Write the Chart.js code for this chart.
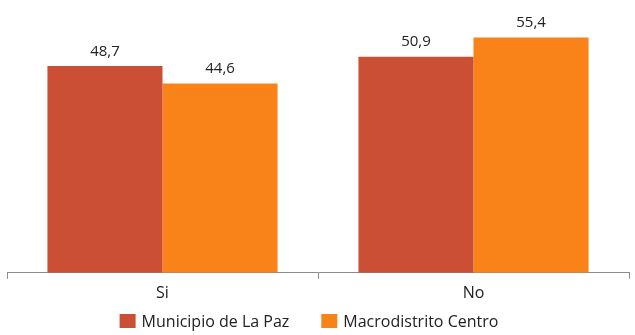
<!DOCTYPE html>
<html>
<head>
<meta charset="utf-8">
<script src="https://cdn.jsdelivr.net/npm/chart.js@4/dist/chart.umd.min.js"></script>
<style>
  html, body { margin:0; padding:0; background:#fff; }
  #wrap { width:635px; height:335px; }
</style>
</head>
<body>
<div id="wrap"><canvas id="chart"></canvas></div>
<script>
// ── Data ──
const categories = ['Si', 'No'];
const seriesNames = ['Municipio de La Paz', 'Macrodistrito Centro'];
const municipio = [48.7, 50.9];
const macrodistrito = [44.6, 55.4];
const colors = ['#CB4F35', '#F98318'];

const FONT = '"Open Sans", "Noto Sans", sans-serif';

// value labels above bars (comma decimal)
const barLabels = {
  id: 'barLabels',
  afterDatasetsDraw(chart) {
    const ctx = chart.ctx;
    ctx.save();
    ctx.font = '15px ' + FONT;
    ctx.fillStyle = '#222';
    ctx.textAlign = 'center';
    ctx.textBaseline = 'bottom';
    chart.data.datasets.forEach((ds, i) => {
      chart.getDatasetMeta(i).data.forEach((bar, j) => {
        ctx.fillText(ds.data[j].toFixed(1).replace('.', ','), bar.x, bar.y - 7);
      });
    });
    ctx.restore();
  }
};

// legend drawn by hand so the gap between items can be wider than the top padding
const bottomLegend = {
  id: 'bottomLegend',
  afterDraw(chart) {
    const ctx = chart.ctx;
    const box = 16, boxH = 14, gapText = 6, gapItem = 32;
    ctx.save();
    ctx.font = '16px ' + FONT;
    ctx.textBaseline = 'middle';
    ctx.textAlign = 'left';
    const items = chart.data.datasets.map(ds => ({ text: ds.label, color: ds.backgroundColor, w: ctx.measureText(ds.label).width }));
    const total = items.reduce((s, it) => s + box + gapText + it.w, 0) + gapItem * (items.length - 1);
    const cy = 321;
    let x = (chart.chartArea.left + chart.chartArea.right) / 2 - 9 - total / 2;
    items.forEach(it => {
      ctx.fillStyle = it.color;
      ctx.fillRect(x, cy - boxH / 2, box, boxH);
      ctx.fillStyle = '#222';
      ctx.fillText(it.text, x + box + gapText, cy + 1);
      x += box + gapText + it.w + gapItem;
    });
    ctx.restore();
  }
};

new Chart(document.getElementById('chart'), {
  type: 'bar',
  data: {
    labels: categories,
    datasets: [
      { label: seriesNames[0], data: municipio, backgroundColor: colors[0] },
      { label: seriesNames[1], data: macrodistrito, backgroundColor: colors[1] }
    ]
  },
  options: {
    responsive: true,
    maintainAspectRatio: false,
    animation: false,
    layout: { padding: { left: 7, right: 6, top: 18, bottom: 27 } },
    categoryPercentage: 0.74,
    barPercentage: 1.0,
    plugins: {
      tooltip: { enabled: false },
      legend: { display: false }
    },
    scales: {
      x: {
        grid: { drawOnChartArea: false, drawTicks: true, tickLength: 6, color: '#8C8C8C' },
        border: { display: true, color: '#8C8C8C' },
        ticks: { color: '#222', padding: 5, font: { family: FONT, size: 16 } }
      },
      y: {
        display: false,
        min: 0, max: 60
      }
    }
  },
  plugins: [barLabels, bottomLegend]
});
</script>
</body>
</html>
